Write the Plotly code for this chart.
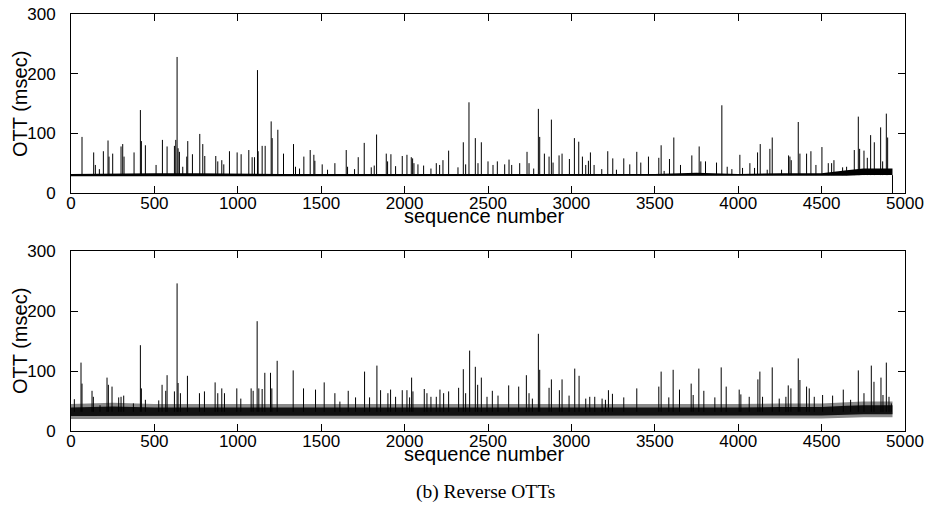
import plotly.graph_objects as go

# ---------------- data ----------------
# Upper panel: spikes (sequence number, OTT msec)
top_spike_seq = [66,136,146,170,194,222,228,250,300,310,318,378,416,422,446,510,548,576,620,628,636,642,650,670,694,700,728,772,790,802,868,880,904,916,950,996,1020,1066,1086,1100,1118,1122,1146,1164,1200,1206,1240,
                 1274,1334,1346,1370,1396,1434,1456,1462,1506,1538,1582,1650,1658,1700,1722,1758,1800,1818,1832,1890,1898,1918,1946,1986,2014,2040,2048,2056,2080,2114,2158,2190,2210,2230,2264,2320,2352,2366,2386,2424,2440,2460,
                 2500,2530,2556,2600,2626,2642,2690,2734,2746,2774,2802,2810,2838,2866,2880,2890,2926,2944,2988,3018,3044,3066,3086,3102,3114,3136,3182,3218,3248,3270,3314,3350,3392,3416,3462,3524,3538,3556,3588,3614,3654,
                 3722,3766,3776,3804,3870,3902,3934,3962,4010,4026,4070,4098,4116,4132,4174,4190,4204,4260,4302,4310,4318,4360,4370,4410,4436,4466,4502,4540,4560,4574,4626,4650,4696,4720,4728,4754,4774,4794,4816,4854,4866,4888,4896,4925]
top_spike_val = [94,68,47,40,70,88,61,66,78,82,61,68,139,87,80,47,89,78,79,89,228,75,69,44,61,87,65,99,82,62,62,53,55,48,70,68,65,72,60,60,206,70,79,79,120,92,106,
                 66,82,44,41,61,72,64,54,48,39,50,72,44,40,60,84,43,46,98,66,53,65,45,62,64,60,58,50,48,46,41,50,47,55,71,43,85,48,152,92,50,85,
                 53,47,53,48,56,47,50,69,50,41,141,94,66,61,123,51,63,66,57,92,86,61,47,54,68,47,40,70,58,39,58,48,69,51,61,59,80,37,57,93,47,
                 63,78,53,53,51,147,44,40,64,42,50,42,68,82,39,74,93,39,63,61,55,119,66,66,70,47,77,50,50,55,43,44,72,128,74,71,59,97,85,110,53,133,93,0]
top_base = 30

# Upper panel: envelope of the baseline noise band
env_seq = [0,250,500,750,1000,1250,1500,1750,2000,2250,2500,2750,3000,3250,3500,3750,4000,4250,4500,4650,4750,4925]
top_low = [28,28,28,28,28,28,28,28,28,28,28,28,28,28,28,28,28,28,28,29,30,30]
top_high = [32,33,33,33,32,32,32,32,33,32,32,32,32,32,32,34,32,33,33,38,41,41]

# Lower panel: spikes
bot_spike_seq = [20,60,66,126,134,174,216,224,246,286,300,316,374,416,422,446,526,546,568,576,620,636,642,656,698,770,800,864,880,904,920,994,1018,1080,1092,1116,1126,1146,1162,1196,1204,1236,
                 1332,1394,1466,1518,1582,1612,1662,1706,1760,1790,1834,1856,1900,1916,1946,1986,2014,2030,2042,2050,2118,2134,2158,2190,2212,2234,2264,2324,2352,2366,2390,2424,2438,2460,
                 2494,2526,2560,2624,2684,2730,2746,2766,2802,2810,2866,2880,2928,2944,2986,3020,3046,3086,3110,3140,3184,3204,3222,3246,3314,3392,3524,3538,3584,3610,3648,3718,3730,3764,
                 3794,3860,3898,3928,4006,4016,4066,4118,4130,4146,4204,4246,4286,4300,4316,4360,4370,4410,4426,4456,4506,4566,4630,4674,4720,4754,4798,4814,4856,4868,4888,4904,4918]
bot_spike_val = [53,114,79,67,57,43,89,77,74,56,57,59,46,143,71,52,51,77,67,93,66,246,80,63,92,63,66,81,63,71,63,71,54,71,67,183,71,70,97,97,71,117,
                 101,71,69,81,63,49,67,56,99,56,109,68,63,69,57,68,68,56,89,66,70,63,57,57,69,63,66,72,103,63,134,107,77,89,
                 57,67,59,76,74,93,63,54,162,102,72,86,68,86,59,104,92,54,57,57,54,52,68,62,56,71,74,99,56,102,69,79,60,104,
                 67,56,106,74,69,61,57,86,99,57,106,54,57,76,71,121,85,74,71,57,60,59,69,52,101,63,109,82,89,60,114,57,46]
bot_base = 32

# Lower panel: envelope of the noise band (dense core and lighter fringe)
bot_core_low = [25,25,25,25,25,25,25,25,25,25,25,25,25,25,25,25,25,25,26,27,28,28]
bot_core_high = [39,41,39,39,39,39,39,39,39,39,39,39,38,39,39,39,39,40,40,42,43,43]
bot_fringe_low = [20,20,20,20,20,20,20,20,20,20,20,20,20,20,20,20,20,20,21,22,23,23]
bot_fringe_high = [45,47,45,45,45,45,45,45,45,45,45,44,44,44,45,45,45,46,46,48,49,49]

x_ticks = [0,500,1000,1500,2000,2500,3000,3500,4000,4500,5000]
y_ticks = [0,100,200,300]


def stems(seq, val, base):
    xs, ys = [], []
    for s, v in zip(seq, val):
        xs += [s, s, None]
        ys += [base, v, None]
    return xs, ys


def band(fig, low, high, color, xa, ya):
    fig.add_trace(go.Scatter(x=env_seq, y=low, mode="lines", line=dict(width=0, color=color),
                             xaxis=xa, yaxis=ya, showlegend=False, hoverinfo="skip"))
    fig.add_trace(go.Scatter(x=env_seq, y=high, mode="lines", line=dict(width=0, color=color),
                             fill="tonexty", fillcolor=color,
                             xaxis=xa, yaxis=ya, showlegend=False, hoverinfo="skip"))


fig = go.Figure()

# upper panel
band(fig, top_low, top_high, "black", "x", "y")
tx, ty = stems(top_spike_seq, top_spike_val, top_base)
fig.add_trace(go.Scatter(x=tx, y=ty, mode="lines", line=dict(color="black", width=1),
                         xaxis="x", yaxis="y", showlegend=False))

# lower panel
band(fig, bot_fringe_low, bot_fringe_high, "#8a8a8a", "x2", "y2")
band(fig, bot_core_low, bot_core_high, "#111111", "x2", "y2")
bx, by = stems(bot_spike_seq, bot_spike_val, bot_base)
fig.add_trace(go.Scatter(x=bx, y=by, mode="lines", line=dict(color="black", width=1),
                         xaxis="x2", yaxis="y2", showlegend=False))

tickfont = dict(family="Liberation Sans, Arial, sans-serif", size=17, color="black")
ax_common = dict(showgrid=False, zeroline=False, showline=True, linecolor="black", linewidth=1,
                 mirror="ticks", ticks="inside", ticklen=7, tickcolor="black", tickwidth=1,
                 tickfont=tickfont, automargin=False)

top_dom = [(431 - 193) / 417, 1.0]
bot_dom = [0.0, (431 - 251) / 417]

fig.update_layout(
    width=929, height=523,
    paper_bgcolor="white", plot_bgcolor="white",
    margin=dict(l=71, r=24, t=14, b=92, autoexpand=False),
    xaxis=dict(domain=[0, 1], anchor="y", range=[0, 5000], tickvals=x_ticks, ticklabelstandoff=-5, **ax_common),
    yaxis=dict(domain=top_dom, anchor="x", range=[0, 300], tickvals=y_ticks, ticklabelstandoff=11, **ax_common),
    xaxis2=dict(domain=[0, 1], anchor="y2", range=[0, 5000], tickvals=x_ticks, ticklabelstandoff=-5, **ax_common),
    yaxis2=dict(domain=bot_dom, anchor="x2", range=[0, 300], tickvals=y_ticks, ticklabelstandoff=11, **ax_common),
    font=tickfont,
)

lab = dict(family="Liberation Sans, Arial, sans-serif", size=20, color="black")
fig.add_annotation(text="sequence number", xref="paper", yref="paper", x=(484 - 71) / 834, y=(431 - 216) / 417,
                   showarrow=False, font=lab, xanchor="center", yanchor="middle")
fig.add_annotation(text="sequence number", xref="paper", yref="paper", x=(484 - 71) / 834, y=(431 - 454) / 417,
                   showarrow=False, font=lab, xanchor="center", yanchor="middle")
fig.add_annotation(text="OTT (msec)", xref="paper", yref="paper", x=(20 - 71) / 834, y=(431 - 104) / 417,
                   showarrow=False, font=lab, textangle=-90, xanchor="center", yanchor="middle")
fig.add_annotation(text="OTT (msec)", xref="paper", yref="paper", x=(20 - 71) / 834, y=(431 - 341) / 417,
                   showarrow=False, font=lab, textangle=-90, xanchor="center", yanchor="middle")
fig.add_annotation(text="(b) Reverse OTTs", xref="paper", yref="paper", x=(485 - 71) / 834, y=(431 - 492) / 417,
                   showarrow=False, font=dict(family="Liberation Serif, Times New Roman, serif", size=19.5, color="black"),
                   xanchor="center", yanchor="middle")

# remove the browser's default 8px body margin so the figure sits at the page origin
fig.write_html("out.html", config={"displayModeBar": False},
               post_script="document.body.style.margin='0px';document.body.style.overflow='hidden';")
